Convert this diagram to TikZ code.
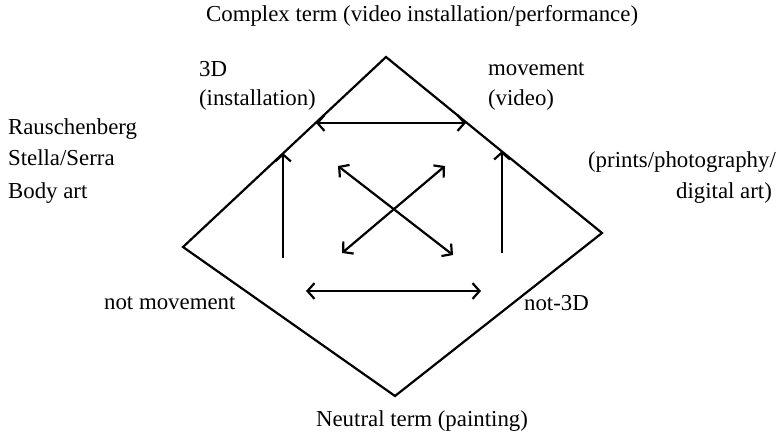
\documentclass[tikz,border=0pt]{standalone}
\usepackage{fontspec}
\setmainfont{Liberation Serif}
\usetikzlibrary{arrows.meta,positioning}

\begin{document}
\begin{tikzpicture}[x=0.02cm,y=-0.02cm,line width=1.25pt,
    >={Straight Barb[length=4pt,width=9pt]},
    lbl/.style={inner sep=0pt,font=\fontsize{13}{15}\selectfont}]
    \useasboundingbox (0,0) rectangle (780,436);

    % Square
    \coordinate (top) at (386,57);
    \coordinate (left) at (183,247);
    \coordinate (bottom) at (395,396);
    \coordinate (right) at (602,233);
    \draw[line join=miter] (top) -- (left) -- (bottom) -- (right) -- cycle;

    % Contraries
    \coordinate (c1) at (316,123);
    \coordinate (c2) at (466,123);
    \draw[<->] (c1) -- (c2);

    % Subcontraries
    \coordinate (s1) at (306,291);
    \coordinate (s2) at (481,291);
    \draw[<->] (s1) -- (s2);

    % Implications
    \coordinate (i1) at (283,258);
    \coordinate (i2) at (283,153);
    \draw[->] (i1) -- (i2);
    \coordinate (j1) at (502,253);
    \coordinate (j2) at (502,151);
    \draw[->] (j1) -- (j2);

    % Contradictions
    \coordinate (d1) at (338,166);
    \coordinate (d2) at (453,255);
    \draw[<->] (d1) -- (d2);
    \coordinate (e1) at (342,253);
    \coordinate (e2) at (445,166);
    \draw[<->] (e1) -- (e2);

    % Terms
    \node[lbl,anchor=west] (complex) at (205,16) {Complex term (video installation/performance)};
    \node[lbl,anchor=west] (neutral) at (315,421) {Neutral term (painting)};
    \node[lbl,anchor=west] (threeD) at (198,69) {3D};
    \node[lbl,anchor=west] (install) at (198,100) {(installation)};
    \node[lbl,anchor=west] (move) at (487,69) {movement};
    \node[lbl,anchor=west] (video) at (487,100) {(video)};
    \node[lbl,anchor=west] (rausch) at (7,129) {Rauschenberg};
    \node[lbl,anchor=west] (stella) at (7,158) {Stella/Serra};
    \node[lbl,anchor=west] (body) at (7,193) {Body art};
    \node[lbl,anchor=east] (prints) at (777,162) {(prints/photography/};
    \node[lbl,anchor=east] (digital) at (773,193) {digital art)};
    \node[lbl,anchor=west] (notmove) at (103,303) {not movement};
    \node[lbl,anchor=west] (notthree) at (523,303) {not-3D};

\end{tikzpicture}
\end{document}
